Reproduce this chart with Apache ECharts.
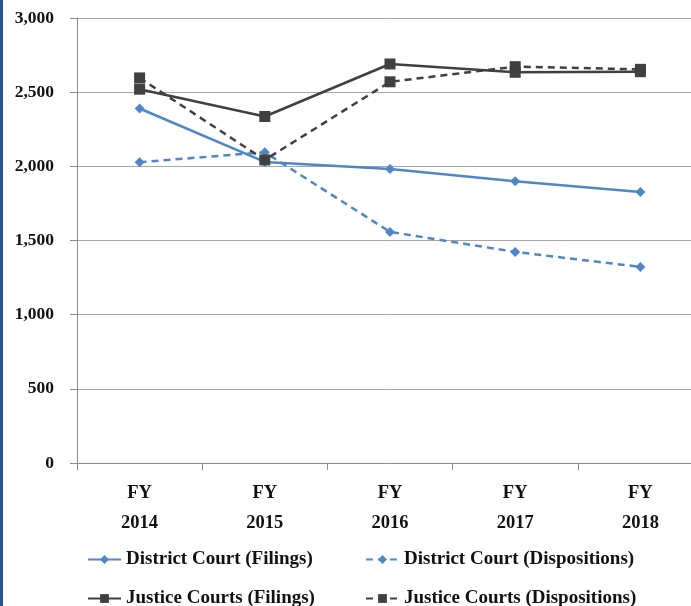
<!DOCTYPE html>
<html>
<head>
    <meta charset="UTF-8">
    <title>Court Filings and Dispositions</title>
    <script src="https://cdn.jsdelivr.net/npm/echarts@6/dist/echarts.min.js"></script>
    <style>
        html, body { margin: 0; padding: 0; background: #fff; }
        #chart { width: 691px; height: 606px; }
    </style>
</head>
<body>
    <div id="chart"></div>
    <script>
        // data
        const years = ['FY\n2014', 'FY\n2015', 'FY\n2016', 'FY\n2017', 'FY\n2018'];
        const districtFilings = [2390, 2030, 1982, 1900, 1827];
        const districtDispositions = [2028, 2095, 1558, 1423, 1322];
        const justiceFilings = [2520, 2336, 2690, 2634, 2638];
        const justiceDispositions = [2596, 2043, 2570, 2672, 2654];

        const names = [
            'District Court (Filings)', 'District Court (Dispositions)',
            'Justice Courts (Filings)', 'Justice Courts (Dispositions)'
        ];

        const blue = '#4f86c6';
        const dark = '#404040';
        const font = 'Liberation Serif';

        let chart = echarts.init(document.getElementById('chart'));

        function line(name, data, color, dashed, symbol, size) {
            return {
                name: name,
                type: 'line',
                data: data,
                symbol: symbol,
                symbolSize: size,
                itemStyle: { color: color },
                lineStyle: { color: color, width: 2.5, type: dashed ? [7, 5] : 'solid' },
                emphasis: { disabled: true }
            };
        }

        const legendText = { fontFamily: font, fontWeight: 'bold', fontSize: 19, color: '#111' };
        // one legend per entry so the two columns line up like the original
        const legendPos = [[82, 545], [360, 545], [82, 584], [360, 584]];
        const legends = names.map((n, i) => ({
            left: legendPos[i][0], top: legendPos[i][1],
            itemWidth: 33, itemHeight: 11, itemGap: 3,
            textStyle: legendText,
            data: [n]
        }));

        chart.setOption({
            animation: false,
            grid: { left: 77, top: 18, width: 626, height: 445, outerBoundsMode: 'none' },
            xAxis: {
                type: 'category',
                data: years,
                boundaryGap: true,
                axisLine: { lineStyle: { color: '#8c8c8c' } },
                axisTick: { show: true, length: 7, lineStyle: { color: '#8c8c8c' } },
                axisLabel: {
                    fontFamily: font, fontWeight: 'bold', fontSize: 18.5, color: '#111',
                    lineHeight: 30, margin: 15
                }
            },
            yAxis: {
                type: 'value',
                min: 0, max: 3000, interval: 500,
                axisLine: { show: true, lineStyle: { color: '#8c8c8c' } },
                axisTick: { show: true, length: 7, lineStyle: { color: '#8c8c8c' } },
                splitLine: { lineStyle: { color: '#a6a6a6' } },
                axisLabel: {
                    fontFamily: font, fontWeight: 'bold', fontSize: 17.5, color: '#111', margin: 23,
                    formatter: v => v.toLocaleString('en-US')
                }
            },
            legend: legends,
            graphic: [{
                type: 'rect',
                shape: { x: 0, y: 0, width: 3, height: 606 },
                style: { fill: '#2a5590' }
            }],
            series: [
                line(names[0], districtFilings, blue, false, 'diamond', 10),
                line(names[1], districtDispositions, blue, true, 'diamond', 10),
                line(names[2], justiceFilings, dark, false, 'rect', 11),
                line(names[3], justiceDispositions, dark, true, 'rect', 11)
            ]
        });
    </script>
</body>
</html>
